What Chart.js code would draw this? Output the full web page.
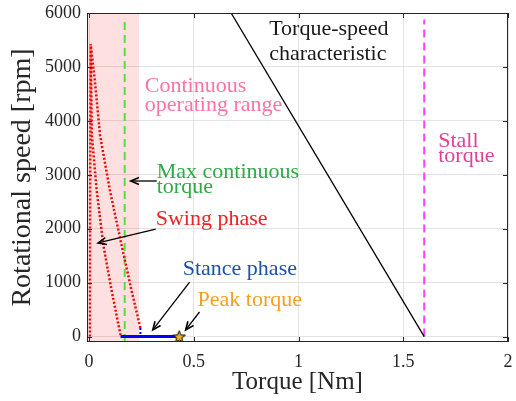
<!DOCTYPE html>
<html>
<head>
<meta charset="utf-8">
<script src="https://cdn.jsdelivr.net/npm/chart.js@4.4.1/dist/chart.umd.min.js"></script>
<style>
    html, body { margin: 0; padding: 0; background: #ffffff; }
    #wrap { width: 516px; height: 401px; }
</style>
</head>
<body>
<div id="wrap"><canvas id="torque-speed"></canvas></div>
<script>
// axis ticks
const xTicks = [0, 0.5, 1, 1.5, 2];
const yTicks = [0, 1000, 2000, 3000, 4000, 5000, 6000];

// motor torque-speed characteristic [Nm, rpm]
const characteristicTorque = [0.678, 1.6];
const characteristicSpeed = [6000, 0];

// limits
const maxContinuousTorque = 0.17;
const stallTorque = 1.6;
const continuousRangeTorque = [-0.01, 0.24];
const continuousRangeSpeed = [6000, 6000];

// swing phase trajectory (null = break between strokes)
const swingTorque = [0.004, 0.005, 0.0076, 0.0095, 0.013, 0.036, 0.068, 0.107, 0.150, null,
    0.245, 0.202, 0.155, 0.099, 0.052, 0.027, 0.0076];
const swingSpeed = [0, 2700, 5425, 4760, 3740, 2718, 1698, 864, 30, null,
    160, 864, 1698, 2718, 3740, 4760, 5425];

// stance phase
const stanceTorque = [0.150, 0.43];
const stanceSpeed = [0, 0];
const stanceTailTorque = [0.245, 0.245];
const stanceTailSpeed = [160, 0];

// peak torque point
const peakTorque = [0.43];
const peakSpeed = [0];

function toPoints (xs, ys) {
    return xs.map((x, i) => ({ x: x, y: ys[i] }));
}

function makeStar (r, fill, stroke) {
    const c = document.createElement('canvas');
    const s = Math.ceil(r * 2 + 4);
    c.width = s;
    c.height = s;
    const g = c.getContext('2d');
    g.beginPath();
    for (let i = 0; i < 10; i++) {
        const rad = i % 2 ? r * 0.42 : r;
        const a = -Math.PI / 2 + i * Math.PI / 5;
        g.lineTo(s / 2 + rad * Math.cos(a), s / 2 + rad * Math.sin(a) + 0.6);
    }
    g.closePath();
    g.fillStyle = fill;
    g.fill();
    g.lineWidth = 1;
    g.strokeStyle = stroke;
    g.stroke();
    return c;
}

const serif = '"Liberation Serif", "Times New Roman", serif';

// text labels, in data coordinates
const labels = [
    { text: 'Torque-speed', x: 1.145, y: 5593, color: '#1a1a1a', align: 'center' },
    { text: 'characteristic', x: 1.14, y: 5130, color: '#1a1a1a', align: 'center' },
    { text: 'Continuous', x: 0.266, y: 4535, color: '#ff73a3', align: 'left' },
    { text: 'operating range', x: 0.266, y: 4183, color: '#ff73a3', align: 'left' },
    { text: 'Max continuous', x: 0.323, y: 2941, color: '#2eaa46', align: 'left' },
    { text: 'torque', x: 0.323, y: 2663, color: '#2eaa46', align: 'left' },
    { text: 'Swing phase', x: 0.318, y: 2069, color: '#ee2222', align: 'left' },
    { text: 'Stance phase', x: 0.447, y: 1142, color: '#1f50aa', align: 'left' },
    { text: 'Peak torque', x: 0.518, y: 567, color: '#f5a01e', align: 'left' },
    { text: 'Stall', x: 1.667, y: 3514, color: '#e0409a', align: 'left' },
    { text: 'torque', x: 1.667, y: 3237, color: '#e0409a', align: 'left' }
];

// arrows: tail -> head
const arrows = [
    { from: [0.323, 2885], to: [0.199, 2885] },
    { from: [0.318, 1995], to: [0.043, 1736] },
    { from: [0.48, 1012], to: [0.304, 123] },
    { from: [0.527, 456], to: [0.461, 123] }
];

const annotationPlugin = {
    id: 'annotations',
    afterDatasetsDraw (chart) {
        const { ctx, scales: { x, y } } = chart;
        ctx.save();
        ctx.font = '22px ' + serif;
        ctx.textBaseline = 'alphabetic';
        labels.forEach(one => {
            ctx.fillStyle = one.color;
            ctx.textAlign = one.align;
            ctx.fillText(one.text, x.getPixelForValue(one.x), y.getPixelForValue(one.y));
        });

        ctx.strokeStyle = '#000000';
        ctx.lineWidth = 1.3;
        arrows.forEach(one => {
            const x1 = x.getPixelForValue(one.from[0]);
            const y1 = y.getPixelForValue(one.from[1]);
            const x2 = x.getPixelForValue(one.to[0]);
            const y2 = y.getPixelForValue(one.to[1]);
            const a = Math.atan2(y2 - y1, x2 - x1);
            ctx.beginPath();
            ctx.moveTo(x1, y1);
            ctx.lineTo(x2, y2);
            ctx.stroke();
            ctx.beginPath();
            ctx.moveTo(x2 - 9 * Math.cos(a - 0.4), y2 - 9 * Math.sin(a - 0.4));
            ctx.lineTo(x2, y2);
            ctx.lineTo(x2 - 9 * Math.cos(a + 0.4), y2 - 9 * Math.sin(a + 0.4));
            ctx.lineWidth = 1.6;
            ctx.stroke();
            ctx.lineWidth = 1.3;
        });
        ctx.restore();
    },
    afterDraw (chart) {
        const { ctx, chartArea: area, scales: { x, y } } = chart;
        ctx.save();
        ctx.strokeStyle = '#262626';
        ctx.lineWidth = 1;
        ctx.strokeRect(area.left + 0.5, area.top + 0.5, area.width - 1, area.height - 1);
        // inside ticks on all four sides
        ctx.beginPath();
        xTicks.forEach(v => {
            const px = Math.round(x.getPixelForValue(v)) + 0.5;
            ctx.moveTo(px, area.bottom);
            ctx.lineTo(px, area.bottom - 5);
            ctx.moveTo(px, area.top);
            ctx.lineTo(px, area.top + 5);
        });
        yTicks.forEach(v => {
            const py = Math.round(y.getPixelForValue(v)) + 0.5;
            ctx.moveTo(area.left, py);
            ctx.lineTo(area.left + 5, py);
            ctx.moveTo(area.right, py);
            ctx.lineTo(area.right - 5, py);
        });
        ctx.stroke();
        ctx.restore();
    }
};

new Chart(
    document.getElementById('torque-speed'),
    {
        type: 'line',
        data: {
            datasets: [
                {
                    label: 'Peak torque',
                    data: toPoints(peakTorque, peakSpeed),
                    showLine: false,
                    pointStyle: makeStar(6.5, '#edb120', '#000000'),
                    pointRadius: 7,
                    order: 0
                },
                {
                    label: 'Stance phase',
                    data: toPoints(stanceTorque, stanceSpeed),
                    borderColor: '#0000ff',
                    borderWidth: 3,
                    pointRadius: 0,
                    order: 1
                },
                {
                    label: 'Stance tail',
                    data: toPoints(stanceTailTorque, stanceTailSpeed),
                    borderColor: '#0000ff',
                    borderWidth: 2,
                    borderDash: [2, 2],
                    pointRadius: 0,
                    order: 2
                },
                {
                    label: 'Swing phase',
                    data: toPoints(swingTorque, swingSpeed),
                    borderColor: '#ff0000',
                    borderWidth: 2.5,
                    borderDash: [2, 2],
                    pointRadius: 0,
                    spanGaps: false,
                    order: 3
                },
                {
                    label: 'Torque-speed characteristic',
                    data: toPoints(characteristicTorque, characteristicSpeed),
                    borderColor: '#000000',
                    borderWidth: 1.3,
                    pointRadius: 0,
                    order: 4
                },
                {
                    label: 'Stall torque',
                    data: toPoints([stallTorque, stallTorque], [0, 5880]),
                    borderColor: '#ff40ff',
                    borderWidth: 2,
                    borderDash: [8, 5],
                    pointRadius: 0,
                    order: 5
                },
                {
                    label: 'Max continuous torque',
                    data: toPoints([maxContinuousTorque, maxContinuousTorque], [-100, 5880]),
                    borderColor: '#55e040',
                    borderWidth: 2,
                    borderDash: [8, 5],
                    pointRadius: 0,
                    order: 6
                },
                {
                    label: 'Continuous operating range',
                    data: toPoints(continuousRangeTorque, continuousRangeSpeed),
                    fill: 'start',
                    backgroundColor: 'rgba(255, 0, 0, 0.12)',
                    borderWidth: 0,
                    pointRadius: 0,
                    order: 10
                }
            ]
        },
        options: {
            responsive: true,
            maintainAspectRatio: false,
            animation: false,
            layout: {
                padding: { left: 0, top: 13, right: 6, bottom: 0 }
            },
            plugins: {
                legend: { display: false },
                tooltip: { enabled: false }
            },
            scales: {
                x: {
                    type: 'linear',
                    min: -0.01,
                    max: 2,
                    afterBuildTicks: scale => {
                        scale.ticks = xTicks.map(v => ({ value: v }));
                    },
                    afterFit: scale => {
                        scale.height = 59;
                        scale.paddingLeft = 0;
                        scale.paddingRight = 0;
                    },
                    grid: { color: '#e3e3e3', drawTicks: false },
                    border: { display: false },
                    ticks: {
                        padding: 9,
                        color: '#262626',
                        font: { family: serif, size: 18 },
                        callback: v => String(v)
                    },
                    title: {
                        display: true,
                        text: 'Torque [Nm]',
                        color: '#262626',
                        font: { family: serif, size: 25, lineHeight: 1.2 },
                        padding: { top: 0, bottom: 4 }
                    }
                },
                y: {
                    type: 'linear',
                    min: -100,
                    max: 6000,
                    afterBuildTicks: scale => {
                        scale.ticks = yTicks.map(v => ({ value: v }));
                    },
                    afterFit: scale => {
                        scale.width = 87;
                        scale.paddingTop = 0;
                        scale.paddingBottom = 0;
                    },
                    grid: { color: '#e3e3e3', drawTicks: false },
                    border: { display: false },
                    ticks: {
                        padding: 6,
                        color: '#262626',
                        font: { family: serif, size: 18 },
                        callback: v => String(v)
                    },
                    title: {
                        display: true,
                        text: 'Rotational speed [rpm]',
                        color: '#262626',
                        font: { family: serif, size: 28, lineHeight: 1 },
                        padding: { top: 9, bottom: 0 }
                    }
                }
            }
        },
        plugins: [annotationPlugin]
    }
);
</script>
</body>
</html>
